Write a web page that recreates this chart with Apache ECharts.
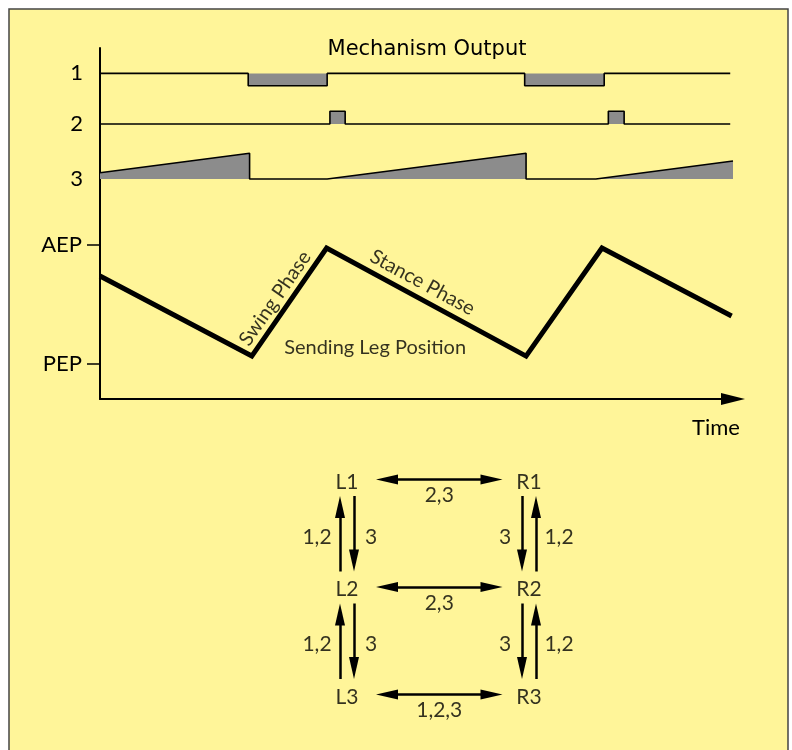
<!DOCTYPE html>
<html><head><meta charset="utf-8">
<script src="https://cdn.jsdelivr.net/npm/echarts@6/dist/echarts.min.js"></script>
<style>html,body{margin:0;padding:0;background:#fff}#c{width:792px;height:750px}</style>
</head><body><div id="c"></div>
<script>
// ---------------- data ----------------
const signalNames = ['1', '2', '3'];
// mechanism 1 output (0 = idle, -1 = active)
const s1Time = [0, 5.35, 5.35, 8.2, 8.2, 15.33, 15.33, 18.2, 18.2, 22.75];
const s1Val  = [0, 0, -1, -1, 0, 0, -1, -1, 0, 0];
// mechanism 2 output (pulse)
const s2Time = [0, 8.3, 8.3, 8.85, 8.85, 18.35, 18.35, 18.92, 18.92, 22.75];
const s2Val  = [0, 0, 1, 1, 0, 0, 1, 1, 0, 0];
// mechanism 3 output (ramp)
const s3Time = [0, 5.4, 5.4, 8.2, 15.38, 15.38, 17.9, 22.85];
const s3Val  = [0.245, 1, 0, 0, 1, 0, 0, 0.70];
// sending leg position (PEP = 0, AEP = 1)
const legTime = [0, 5.48, 8.18, 15.38, 18.12, 22.8];
const legPos  = [0.737, 0.062, 0.973, 0.062, 0.973, 0.40];
const posLevels = [0, 1];
const posLabels = ['PEP', 'AEP'];
const timeMax = 22.85;
const notes = ['Swing Phase', 'Stance Phase', 'Sending Leg Position'];
const noteTime = [6.32, 11.64, 9.93];
const notePos  = [0.549, 0.682, 0.134];
// coupling diagram
const legNames = ['L1', 'L2', 'L3', 'R1', 'R2', 'R3'];
const legCol = [0, 0, 0, 1, 1, 1];
const legRow = [1, 2, 3, 1, 2, 3];
const crossEdges = [['L1', 'R1', '2,3'], ['L2', 'R2', '2,3'], ['L3', 'R3', '1,2,3']];
const ipsiEdges = [
  ['L2', 'L1', '1,2'], ['L1', 'L2', '3'], ['L3', 'L2', '1,2'], ['L2', 'L3', '3'],
  ['R2', 'R1', '1,2'], ['R1', 'R2', '3'], ['R3', 'R2', '1,2'], ['R2', 'R3', '3']
];

// ---------------- layout / style ----------------
const FONT = 'Lato';
const INK = '#000';
const GRAY = '#8c8c8c';
const plot = { left: 100, width: 633 };
const dia = { left: 165, width: 546, top: 428.25, height: 322.5, xmin: -1, xmax: 2, ymin: 0.5, ymax: 3.5 };
const pxX = dia.width / (dia.xmax - dia.xmin);
const pxY = dia.height / (dia.ymax - dia.ymin);
const ARROW = [10, 22];

const zip = (a, b) => a.map((v, i) => [v, b[i]]);
const idx = n => legNames.indexOf(n);

// cross (contralateral) arrows
const lineData = [];
const edgeLabels = [];
crossEdges.forEach(e => {
  const i = idx(e[0]), j = idx(e[1]);
  const y = legRow[i] - 2.5 / pxY;
  const x1 = legCol[i] + 40 / pxX, x2 = legCol[j] - 37.5 / pxX;
  lineData.push({ coords: [[x1, y], [x2, y]], symbol: ['triangle', 'triangle'] });
  const mx = (legCol[i] + 29 / pxX + legCol[j] - 26.5 / pxX) / 2;
  edgeLabels.push([mx, y + 16 / pxY, e[2]]);
});
// ipsilateral arrows
ipsiEdges.forEach(e => {
  const i = idx(e[0]), j = idx(e[1]);
  const col = legCol[i];
  const s = col === 0 ? -1 : 1;               // outward direction
  const up = legRow[j] < legRow[i];
  const x = col + (up ? s : -s) * 7 / pxX;
  const u = Math.min(legRow[i], legRow[j]), l = Math.max(legRow[i], legRow[j]);
  const yTop = u + 14 / pxY, yBot = l - 18 / pxY;
  const coords = up ? [[x, yBot], [x, yTop + 11 / pxY]] : [[x, yTop], [x, yBot - 11 / pxY]];
  lineData.push({ coords: coords, symbol: ['none', 'triangle'] });
  const lx = x + (up ? s * 23 : -s * 17) / pxX;
  edgeLabels.push([lx, (yTop + yBot) / 2 + 3 / pxY, e[2]]);
});

const labelText = { fontFamily: FONT, fontSize: 21, color: INK };
const hidden = { show: false };
const gridBase = { left: plot.left, width: plot.width, outerBoundsMode: 'none', containLabel: false };
const sigPad = [[6, 0, 0, 0], [4, 0, 0, 0], [0, 0, 6, 0]];
const sigY = (min, max, k) => ({
  type: 'value', min: min, max: max,
  axisLine: hidden, axisTick: hidden, splitLine: hidden,
  axisLabel: { customValues: [0], formatter: () => signalNames[k], margin: 17, padding: sigPad[k],
    fontFamily: FONT, fontSize: 22, color: INK }
});
const sigX = gi => ({ type: 'value', gridIndex: gi, min: 0, max: timeMax, show: false });

const option = {
  backgroundColor: '#ffffff',
  animation: false,
  textStyle: { fontFamily: FONT },
  graphic: [
    { type: 'rect', z: -10, shape: { x: 9, y: 9, width: 779, height: 800 },
      style: { fill: '#FFF599', stroke: '#444', lineWidth: 1.5 } },
    { type: 'text', x: 427, y: 50, style: { text: 'Mechanism Output', fontFamily: 'DejaVu Sans', fontSize: 21,
      align: 'center', verticalAlign: 'middle', fill: INK } }
  ],
  grid: [
    Object.assign({ top: 61, height: 24.8 }, gridBase),
    Object.assign({ top: 111.3, height: 25.4 }, gridBase),
    Object.assign({ top: 153.3, height: 25.7 }, gridBase),
    Object.assign({ top: 48, height: 351 }, gridBase),
    { left: dia.left, width: dia.width, top: dia.top, height: dia.height, outerBoundsMode: 'none' }
  ],
  xAxis: [
    sigX(0), sigX(1), sigX(2),
    { type: 'value', gridIndex: 3, min: 0, max: timeMax,
      axisLine: { show: true, onZero: false, symbol: ['none', 'triangle'], symbolSize: [12, 24], lineStyle: { color: '#000', width: 2 } },
      axisTick: hidden, axisLabel: hidden, splitLine: hidden,
      name: 'Time', nameLocation: 'end', nameGap: -17,
      nameTextStyle: { fontFamily: FONT, fontSize: 22, color: INK, align: 'center', verticalAlign: 'top', padding: [18, 0, 0, 0] } },
    { type: 'value', gridIndex: 4, min: dia.xmin, max: dia.xmax, show: false }
  ],
  yAxis: [
    Object.assign(sigY(-1, 1, 0), { gridIndex: 0 }),
    Object.assign(sigY(-1, 1, 1), { gridIndex: 1 }),
    Object.assign(sigY(0, 1, 2), { gridIndex: 2 }),
    { type: 'value', gridIndex: 3, min: -0.3, max: 2.66,
      axisLine: { show: true, onZero: false, lineStyle: { color: '#000', width: 2 } },
      axisTick: { show: true, customValues: posLevels, length: 13, lineStyle: { color: '#000', width: 1.5 } },
      axisLabel: { customValues: posLevels, formatter: v => posLabels[posLevels.indexOf(v)], margin: 18,
        fontFamily: FONT, fontSize: 22, color: INK },
      splitLine: hidden },
    { type: 'value', gridIndex: 4, min: dia.ymin, max: dia.ymax, inverse: true, show: false }
  ],
  series: [
    { type: 'line', xAxisIndex: 0, yAxisIndex: 0, data: zip(s1Time, s1Val), symbol: 'none', clip: false,
      lineStyle: { color: '#000', width: 1.6 }, areaStyle: { color: GRAY, opacity: 1 } },
    { type: 'line', xAxisIndex: 1, yAxisIndex: 1, data: zip(s2Time, s2Val), symbol: 'none', clip: false,
      lineStyle: { color: '#000', width: 1.6 }, areaStyle: { color: GRAY, opacity: 1 } },
    { type: 'line', xAxisIndex: 2, yAxisIndex: 2, data: zip(s3Time, s3Val), symbol: 'none', clip: false,
      lineStyle: { color: '#000', width: 1.6 }, areaStyle: { color: GRAY, opacity: 1 } },
    { type: 'line', xAxisIndex: 3, yAxisIndex: 3, data: zip(legTime, legPos), symbol: 'none', clip: false,
      lineStyle: { color: '#000', width: 5, join: 'miter', cap: 'butt' } },
    { type: 'scatter', xAxisIndex: 3, yAxisIndex: 3, symbolSize: 1, itemStyle: { color: 'rgba(0,0,0,0)' },
      data: notes.map((n, i) => ({ value: [noteTime[i], notePos[i], n],
        label: { rotate: [55.2, -28.5, 0][i] } })),
      label: Object.assign({ show: true, position: 'inside', formatter: p => p.value[2] }, labelText, { fontSize: 20 }) },
    { type: 'lines', coordinateSystem: 'cartesian2d', xAxisIndex: 4, yAxisIndex: 4, data: lineData,
      symbolSize: [ARROW, ARROW], lineStyle: { color: '#000', width: 2.5, opacity: 1, curveness: 0 } },
    { type: 'scatter', xAxisIndex: 4, yAxisIndex: 4, symbolSize: 1, itemStyle: { color: 'rgba(0,0,0,0)' },
      data: legNames.map((n, i) => [legCol[i], legRow[i], n]),
      label: Object.assign({ show: true, position: 'inside', formatter: p => p.value[2] }, labelText) },
    { type: 'scatter', xAxisIndex: 4, yAxisIndex: 4, symbolSize: 1, itemStyle: { color: 'rgba(0,0,0,0)' },
      data: edgeLabels,
      label: Object.assign({ show: true, position: 'inside', formatter: p => p.value[2] }, labelText) }
  ]
};
const chart = echarts.init(document.getElementById('c'));
chart.setOption(option);
</script>
</body></html>
